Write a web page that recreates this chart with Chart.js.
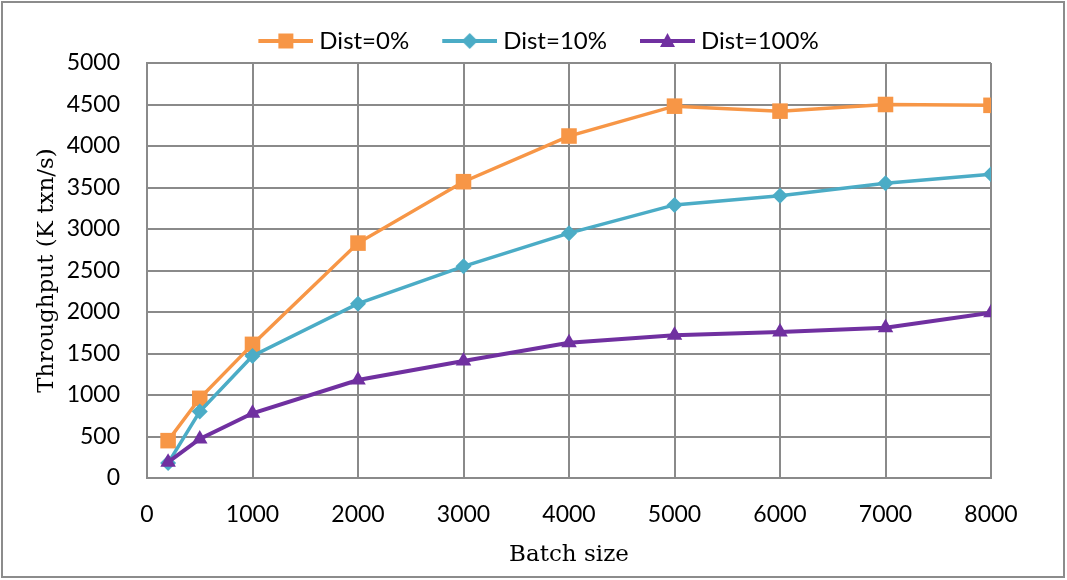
<!DOCTYPE html>
<html>
<head>
<meta charset="utf-8">
<script src="https://cdn.jsdelivr.net/npm/chart.js@4"></script>
<style>
  html, body { margin: 0; padding: 0; background: #fff; }
  #wrap { width: 1067px; height: 580px; }
</style>
</head>
<body>
<div id="wrap"><canvas id="chart"></canvas></div>
<script>
const batchSizes = [200, 500, 1000, 2000, 3000, 4000, 5000, 6000, 7000, 8000];
const dist0 = [450, 960, 1610, 2830, 3570, 4120, 4480, 4420, 4500, 4490];
const dist10 = [180, 800, 1470, 2100, 2550, 2950, 3290, 3400, 3550, 3660];
const dist100 = [190, 470, 780, 1180, 1410, 1630, 1720, 1760, 1810, 1990];
const seriesNames = ["Dist=0%", "Dist=10%", "Dist=100%"];
const seriesColors = ["#f79646", "#4bacc6", "#7030a0"];
const seriesMarkers = ["rect", "rectRot", "triangle"];

const gridColor = "#8a8a8a";
const tickFont = { family: "Lato", size: 23 };
const legendFont = { family: "Lato", size: 24, lineHeight: 1 };
const titleFont = { family: "DejaVu Serif", size: 23 };

// legend icon: short line with the marker in the middle
function legendIcon(color, marker) {
  const c = document.createElement("canvas");
  c.width = 91;
  c.height = 22;
  const g = c.getContext("2d");
  g.strokeStyle = color;
  g.lineWidth = 4;
  g.beginPath();
  g.moveTo(36, 11);
  g.lineTo(91, 11);
  g.stroke();
  g.fillStyle = color;
  const cx = 63.5, cy = 11;
  g.beginPath();
  if (marker === "rect") {
    g.rect(cx - 7.5, cy - 7.5, 15, 15);
  } else if (marker === "rectRot") {
    g.moveTo(cx, cy - 8); g.lineTo(cx + 8, cy); g.lineTo(cx, cy + 8); g.lineTo(cx - 8, cy);
  } else {
    g.moveTo(cx, cy - 8); g.lineTo(cx + 7.5, cy + 6); g.lineTo(cx - 7.5, cy + 6);
  }
  g.closePath();
  g.fill();
  return c;
}

function toPoints(values) {
  return values.map((v, i) => ({ x: batchSizes[i], y: v }));
}

const frame = {
  id: "frame",
  beforeDraw(chart) {
    const g = chart.ctx;
    g.save();
    g.fillStyle = "#fff";
    g.fillRect(0, 0, chart.width, chart.height);
    g.restore();
  },
  afterDraw(chart) {
    const g = chart.ctx;
    g.save();
    g.strokeStyle = "#8c8c8c";
    g.lineWidth = 2;
    g.strokeRect(2, 2, chart.width - 5, chart.height - 5);
    g.restore();
  }
};

const radii = [11, 8, 9];
const widths = [3.5, 3.5, 4];

new Chart(document.getElementById("chart"), {
  type: "line",
  data: {
    datasets: [dist0, dist10, dist100].map((vals, i) => ({
      label: seriesNames[i],
      data: toPoints(vals),
      borderColor: seriesColors[i],
      backgroundColor: seriesColors[i],
      borderWidth: widths[i],
      pointStyle: seriesMarkers[i],
      pointRadius: radii[i],
      pointBorderWidth: 0,
      pointBackgroundColor: seriesColors[i],
      tension: 0,
      order: 3 - i,
    })),
  },
  options: {
    responsive: true,
    maintainAspectRatio: false,
    animation: false,
    layout: { padding: { left: 0, right: 20, top: 26, bottom: 2 } },
    scales: {
      x: {
        type: "linear",
        min: 0,
        max: 8000,
        afterFit: (s) => { s.height = 100; },
        ticks: { stepSize: 1000, padding: 23, font: tickFont, color: "#000", callback: (v) => String(v) },
        grid: { color: gridColor, lineWidth: 2, drawTicks: false },
        border: { color: gridColor, width: 2 },
        title: { display: true, text: "Batch size", font: titleFont, color: "#000", padding: { top: 0, bottom: 9 } },
      },
      y: {
        min: 0,
        max: 5000,
        afterFit: (s) => { s.width = 147; },
        ticks: { stepSize: 500, padding: 27, font: tickFont, color: "#000", callback: (v) => String(v) },
        grid: { color: gridColor, lineWidth: 2, drawTicks: false },
        border: { color: gridColor, width: 2 },
        title: { display: true, text: "Throughput (K txn/s)", font: titleFont, color: "#000", padding: { top: 33, bottom: 0 } },
      },
      // empty right gutter so the plot ends where the reference's does
      gutter: {
        position: "right",
        afterFit: (s) => { s.width = 56; },
        ticks: { display: false },
        grid: { display: false },
        border: { display: false },
      },
    },
    plugins: {
      tooltip: { enabled: false },
      legend: {
        position: "top",
        labels: {
          usePointStyle: true,
          pointStyleWidth: 79,
          padding: 3,
          font: legendFont,
          color: "#000",
          generateLabels: (chart) => chart.data.datasets.map((ds, i) => ({
            text: ds.label,
            datasetIndex: i,
            fillStyle: ds.borderColor,
            strokeStyle: ds.borderColor,
            lineWidth: 0,
            hidden: false,
            pointStyle: legendIcon(seriesColors[i], seriesMarkers[i]),
          })),
        },
      },
    },
  },
  plugins: [frame],
});
</script>
</body>
</html>
